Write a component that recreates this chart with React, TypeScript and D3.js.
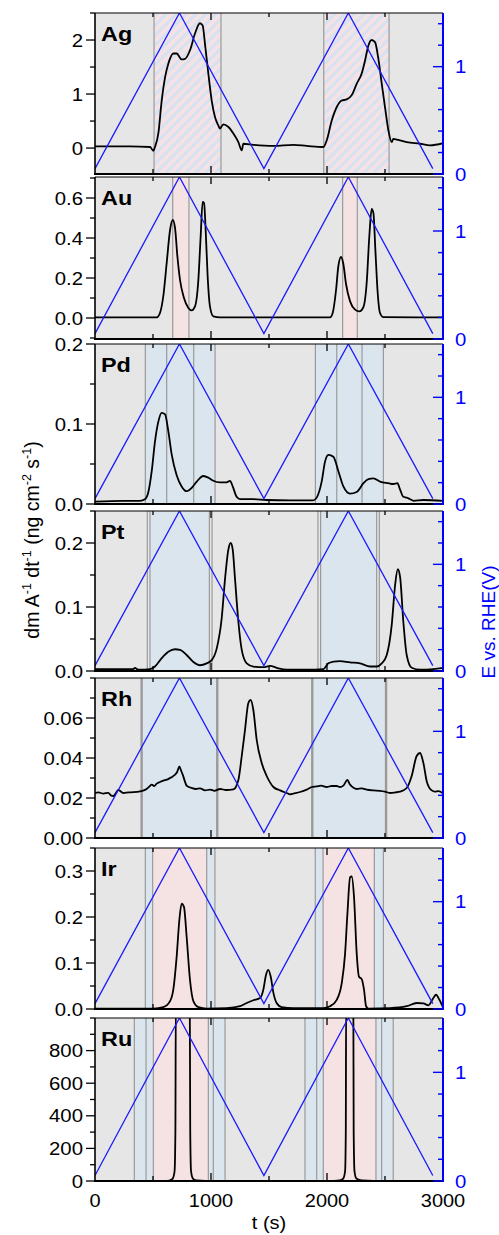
import * as d3 from 'd3';

// time axis (s) and applied potential (V vs RHE), triangle sweep
const potT = [0, 728, 1456, 2184, 2912];
const potE = [0.05, 1.5, 0.05, 1.5, 0.05];

// Ag
const agT = [0, 150, 300, 474, 503, 517, 546, 575, 604, 632, 675, 704, 747, 776, 819, 862, 905, 928, 948, 977, 1006, 1035, 1063, 1078, 1106, 1150, 1193, 1236, 1265, 1279, 1365, 1538, 1710, 1825, 1969, 1997, 2041, 2084, 2127, 2170, 2213, 2256, 2299, 2328, 2357, 2385, 2414, 2443, 2472, 2500, 2529, 2558, 2572, 2615, 2687, 2802, 2888, 3003];
const agV = [0.03, 0.03, 0.03, 0.02, -0.05, 0.02, 0.27, 0.88, 1.31, 1.56, 1.75, 1.75, 1.64, 1.65, 1.81, 2.12, 2.31, 2.27, 1.93, 1.38, 0.88, 0.57, 0.42, 0.36, 0.44, 0.39, 0.27, 0.11, -0.04, 0.08, 0.06, 0.04, 0.06, 0.04, 0.02, 0.14, 0.51, 0.76, 0.88, 0.9, 0.98, 1.19, 1.38, 1.62, 1.9, 2.0, 1.96, 1.65, 1.19, 0.76, 0.33, 0.11, 0.17, 0.15, 0.11, 0.08, 0.05, 0.09];

// Au
const auT = [0, 300, 532, 560, 589, 618, 647, 670, 690, 710, 733, 767, 805, 833, 862, 891, 911, 928, 940, 954, 971, 991, 1020, 1078, 1500, 2026, 2049, 2078, 2098, 2121, 2141, 2164, 2199, 2242, 2279, 2314, 2342, 2365, 2385, 2400, 2417, 2437, 2457, 2486, 3003];
const auV = [0.003, 0.003, 0.003, 0.025, 0.11, 0.275, 0.44, 0.49, 0.45, 0.31, 0.19, 0.1, 0.05, 0.038, 0.058, 0.19, 0.41, 0.58, 0.575, 0.44, 0.21, 0.058, 0.008, 0.003, 0.003, 0.003, 0.025, 0.14, 0.26, 0.305, 0.27, 0.17, 0.083, 0.042, 0.033, 0.055, 0.175, 0.41, 0.545, 0.525, 0.34, 0.125, 0.025, 0.004, 0.003];

// Pd
const pdT = [0, 244, 388, 431, 460, 489, 517, 546, 575, 604, 632, 661, 704, 747, 790, 833, 877, 934, 977, 1020, 1078, 1135, 1164, 1187, 1221, 1250, 1365, 1480, 1681, 1882, 1911, 1954, 1983, 2012, 2055, 2098, 2141, 2199, 2256, 2314, 2357, 2400, 2457, 2529, 2572, 2607, 2630, 2658, 2687, 2716, 2745, 2831, 3003];
const pdV = [0.003, 0.004, 0.004, 0.006, 0.015, 0.041, 0.078, 0.103, 0.114, 0.112, 0.091, 0.062, 0.036, 0.022, 0.016, 0.02, 0.028, 0.035, 0.033, 0.029, 0.027, 0.027, 0.029, 0.022, 0.009, 0.006, 0.006, 0.005, 0.0046, 0.0046, 0.008, 0.028, 0.053, 0.0615, 0.059, 0.041, 0.022, 0.013, 0.015, 0.026, 0.031, 0.032, 0.028, 0.026, 0.025, 0.026, 0.018, 0.009, 0.008, 0.006, 0.004, 0.005, 0.004];

// Pt
const ptT = [0, 200, 331, 345, 360, 388, 474, 517, 575, 632, 690, 733, 790, 848, 905, 963, 1006, 1049, 1092, 1121, 1150, 1170, 1187, 1207, 1236, 1265, 1308, 1365, 1451, 1509, 1566, 1653, 1825, 1969, 2012, 2055, 2112, 2199, 2285, 2371, 2429, 2472, 2515, 2558, 2587, 2610, 2630, 2658, 2687, 2730, 2802, 2917, 3003];
const ptV = [0.003, 0.003, 0.003, 0.005, 0.003, 0.002, 0.003, 0.007, 0.02, 0.03, 0.034, 0.033, 0.025, 0.014, 0.009, 0.012, 0.017, 0.035, 0.082, 0.144, 0.19, 0.2, 0.19, 0.144, 0.077, 0.033, 0.012, 0.007, 0.006, 0.008, 0.005, 0.002, 0.002, 0.003, 0.012, 0.0145, 0.0155, 0.0135, 0.012, 0.007, 0.007, 0.012, 0.025, 0.072, 0.134, 0.159, 0.147, 0.077, 0.025, 0.005, 0.002, 0.003, 0.005];

// Rh
const rhT = [0, 30, 72, 115, 140, 158, 180, 201, 244, 290, 331, 388, 420, 445, 470, 489, 510, 532, 560, 589, 620, 647, 670, 690, 708, 727, 740, 756, 790, 810, 833, 870, 905, 950, 992, 1030, 1078, 1130, 1193, 1236, 1265, 1293, 1322, 1342, 1365, 1394, 1437, 1480, 1538, 1595, 1620, 1653, 1680, 1710, 1768, 1825, 1870, 1911, 1950, 1997, 2040, 2084, 2110, 2141, 2176, 2195, 2213, 2256, 2300, 2342, 2400, 2457, 2500, 2543, 2590, 2630, 2687, 2730, 2773, 2802, 2831, 2860, 2903, 2930, 2960, 3003];
const rhV = [0.0225, 0.0228, 0.0222, 0.0226, 0.0212, 0.021, 0.0225, 0.024, 0.0225, 0.0228, 0.0229, 0.0233, 0.0238, 0.0245, 0.0258, 0.0267, 0.026, 0.0272, 0.028, 0.0287, 0.0292, 0.03, 0.0308, 0.0317, 0.033, 0.0358, 0.034, 0.0317, 0.0262, 0.0255, 0.025, 0.0245, 0.0248, 0.0238, 0.0242, 0.0236, 0.0245, 0.024, 0.0243, 0.029, 0.041, 0.054, 0.0675, 0.069, 0.064, 0.049, 0.0375, 0.031, 0.0255, 0.0238, 0.0232, 0.0225, 0.0218, 0.0222, 0.023, 0.0242, 0.0255, 0.0258, 0.0262, 0.0255, 0.026, 0.026, 0.0255, 0.0262, 0.029, 0.027, 0.0258, 0.0245, 0.0248, 0.0242, 0.0238, 0.0236, 0.0232, 0.0225, 0.0228, 0.0232, 0.025, 0.031, 0.041, 0.0425, 0.0375, 0.0283, 0.0238, 0.0232, 0.0234, 0.0222];

// Ir
const irT = [0, 300, 503, 589, 647, 675, 704, 727, 747, 767, 790, 819, 848, 891, 963, 1135, 1250, 1308, 1365, 1423, 1451, 1474, 1494, 1515, 1538, 1566, 1609, 1710, 1969, 2026, 2084, 2127, 2156, 2176, 2199, 2213, 2233, 2256, 2276, 2299, 2319, 2337, 2357, 2543, 2687, 2773, 2831, 2874, 2917, 2940, 2969, 3003];
const irV = [0.001, 0.001, 0.001, 0.004, 0.017, 0.042, 0.114, 0.193, 0.229, 0.222, 0.157, 0.063, 0.017, 0.004, 0.001, 0.002, 0.006, 0.013, 0.019, 0.024, 0.042, 0.074, 0.085, 0.07, 0.035, 0.013, 0.004, 0.002, 0.002, 0.006, 0.02, 0.056, 0.121, 0.207, 0.286, 0.288, 0.243, 0.121, 0.07, 0.065, 0.042, 0.006, 0.001, 0.002, 0.006, 0.013, 0.012, 0.008, 0.024, 0.031, 0.02, 0.002];

// Ru
const ruT = [0, 400, 600, 640, 670, 686, 693, 697, 817, 821, 828, 844, 877, 950, 1500, 2060, 2110, 2140, 2156, 2162, 2165, 2227, 2230, 2237, 2253, 2300, 2400, 3003];
const ruV = [0, 0, 0, 3, 15, 60, 300, 1100, 1100, 300, 60, 15, 3, 0, 0, 0, 3, 15, 60, 300, 1100, 1100, 300, 60, 15, 3, 0, 0];

// shaded potential windows (s)
const agHatch = [[509, 1086], [1972, 2535]];
const agLines = [509, 1086, 1972, 2535];
const auPink = [[670, 810], [2135, 2261]];
const auLines = [670, 810, 2135, 2261];
const pdBlue = [[434, 1035], [1900, 2486]];
const pdLines = [434, 618, 851, 1035, 1900, 2084, 2302, 2486];
const ptBlue = [[474, 986], [1945, 2428]];
const ptLines = [451, 474, 986, 1009, 1922, 1945, 2428, 2451];
const rhBlue = [[402, 1054], [1873, 2509]];
const rhLines = [402, 1054, 1873, 2509];
const irBlue = [[434, 497], [963, 1034], [1899, 1966], [2408, 2486]];
const irPink = [[497, 963], [1966, 2408]];
const irLines = [434, 497, 963, 1034, 1899, 1966, 2408, 2486];
const ruBlue = [[339, 503], [977, 1121], [1810, 1968], [2422, 2571]];
const ruPink = [[503, 977], [1968, 2422]];
const ruLines = [339, 440, 503, 977, 1020, 1121, 1810, 1911, 1968, 2422, 2471, 2571];

// y ticks
const agTicks = [0, 1, 2];
const auTicks = [0, 0.2, 0.4, 0.6];
const pdTicks = [0, 0.1, 0.2];
const ptTicks = [0, 0.1, 0.2];
const rhTicks = [0, 0.02, 0.04, 0.06];
const irTicks = [0, 0.1, 0.2, 0.3];
const ruTicks = [0, 200, 400, 600, 800];
const xTicks = [0, 1000, 2000, 3000];
const eTicks = [0, 1];

const FONT = '"Liberation Sans", Arial, sans-serif';
const GRAY = '#e6e6e6';
const PINK = '#f5e3e3';
const BLUE = '#dbe5ee';
const LINE = '#9a9a9a';

const panels = [
  { name: 'Ag', top: 13, bottom: 174, domain: [-0.48, 2.5], ticks: agTicks, minorStep: 0.5, fmt: d3.format('d'), t: agT, v: agV, hatch: agHatch, pink: [], blue: [], lines: agLines, lw: 1.2 },
  { name: 'Au', top: 177, bottom: 339, domain: [-0.105, 0.705], ticks: auTicks, minorStep: 0.1, fmt: d3.format('.1f'), t: auT, v: auV, hatch: [], pink: auPink, blue: [], lines: auLines, lw: 1.2 },
  { name: 'Pd', top: 344, bottom: 504, domain: [0, 0.2], ticks: pdTicks, minorStep: 0.05, fmt: d3.format('.1f'), t: pdT, v: pdV, hatch: [], pink: [], blue: pdBlue, lines: pdLines, lw: 1.2 },
  { name: 'Pt', top: 511, bottom: 671, domain: [0, 0.25], ticks: ptTicks, minorStep: 0.05, fmt: d3.format('.1f'), t: ptT, v: ptV, hatch: [], pink: [], blue: ptBlue, lines: ptLines, lw: 1.2 },
  { name: 'Rh', top: 678, bottom: 838, domain: [0, 0.08], ticks: rhTicks, minorStep: 0.01, fmt: d3.format('.2f'), t: rhT, v: rhV, hatch: [], pink: [], blue: rhBlue, lines: rhLines, lw: 2.4 },
  { name: 'Ir', top: 848, bottom: 1009, domain: [0, 0.35], ticks: irTicks, minorStep: 0.05, fmt: d3.format('.1f'), t: irT, v: irV, hatch: [], pink: irPink, blue: irBlue, lines: irLines, lw: 1.2 },
  { name: 'Ru', top: 1018, bottom: 1181, domain: [0, 1000], ticks: ruTicks, minorStep: 100, fmt: d3.format('d'), t: ruT, v: ruV, hatch: [], pink: ruPink, blue: ruBlue, lines: ruLines, lw: 1.2 },
];

const x = d3.scaleLinear().domain([0, 3000]).range([95, 443]);
const xAll = d3.range(0, 3001, 500);

function Panel({ p, idx, last }: any) {
  const y = d3.scaleLinear().domain(p.domain).range([p.bottom, p.top]);
  const yE = d3.scaleLinear().domain([0, 1.5]).range([p.bottom, p.top]);
  const sig = d3.line<number>().x((d, i) => x(p.t[i])).y((d) => y(d)).curve(d3.curveMonotoneX);
  const pot = d3.line<number>().x((d, i) => x(potT[i])).y((d) => yE(d));
  const minors = d3.range(Math.ceil(p.domain[0] / p.minorStep) * p.minorStep, p.domain[1] + 1e-9, p.minorStep)
    .filter((v: number) => !p.ticks.some((t: number) => Math.abs(t - v) < 1e-9));
  const eMinor = [0.2, 0.4, 0.6, 0.8, 1.2, 1.4];
  const clip = `clip-${idx}`;
  const h = p.bottom - p.top;
  return (
    <g>
      <defs>
        <clipPath id={clip}>
          <rect x={95} y={p.top} width={348} height={h} />
        </clipPath>
      </defs>
      <rect x={95} y={p.top} width={348} height={h} fill={GRAY} />
      {p.hatch.map((r: number[], i: number) => (
        <rect key={'h' + i} x={x(r[0])} y={p.top} width={x(r[1]) - x(r[0])} height={h} fill="url(#hatch)" />
      ))}
      {p.pink.map((r: number[], i: number) => (
        <rect key={'p' + i} x={x(r[0])} y={p.top} width={x(r[1]) - x(r[0])} height={h} fill={PINK} />
      ))}
      {p.blue.map((r: number[], i: number) => (
        <rect key={'b' + i} x={x(r[0])} y={p.top} width={x(r[1]) - x(r[0])} height={h} fill={BLUE} />
      ))}
      {p.lines.map((t: number, i: number) => (
        <line key={'l' + i} x1={x(t)} x2={x(t)} y1={p.top} y2={p.bottom} stroke={LINE} strokeWidth={p.lw} />
      ))}
      <g clipPath={`url(#${clip})`}>
        <path d={sig(p.v) || ''} fill="none" stroke="#000" strokeWidth={1.8} strokeLinejoin="round" />
        <path d={pot(potE) || ''} fill="none" stroke="#1a1aff" strokeWidth={1.3} />
      </g>
      {/* spines */}
      <line x1={95} x2={443} y1={p.top} y2={p.top} stroke="#000" strokeWidth={1.2} />
      <line x1={94} x2={443} y1={p.bottom} y2={p.bottom} stroke="#000" strokeWidth={2.2} />
      <line x1={95} x2={95} y1={p.top} y2={p.bottom} stroke="#000" strokeWidth={1.6} />
      <line x1={443} x2={443} y1={p.top} y2={p.bottom + 1} stroke="#0000ff" strokeWidth={2} />
      {/* x ticks, inward top and bottom */}
      {xAll.filter((t) => t > 0 && t < 3000).map((t) => {
        const len = t % 1000 === 0 ? 8 : 5;
        return (
          <g key={'x' + t}>
            <line x1={x(t)} x2={x(t)} y1={p.bottom} y2={p.bottom - len} stroke="#000" strokeWidth={1.3} />
            <line x1={x(t)} x2={x(t)} y1={p.top} y2={p.top + len - 1} stroke="#000" strokeWidth={1.3} />
          </g>
        );
      })}
      {/* left ticks */}
      {p.ticks.map((t: number) => (
        <g key={'y' + t}>
          <line x1={86} x2={95} y1={y(t)} y2={y(t)} stroke="#000" strokeWidth={1.3} />
          <text transform={`translate(83,${y(t)}) scale(1.1,1)`} dy="0.36em" textAnchor="end" fontSize={18.5} fontFamily={FONT}>
            {p.fmt(t)}
          </text>
        </g>
      ))}
      {minors.map((t: number) => (
        <line key={'m' + t} x1={90} x2={95} y1={y(t)} y2={y(t)} stroke="#000" strokeWidth={1.3} />
      ))}
      {/* right potential axis, inward ticks */}
      {eTicks.map((e) => (
        <g key={'e' + e}>
          <line x1={433} x2={443} y1={yE(e)} y2={yE(e)} stroke="#0000ff" strokeWidth={1.4} />
          <text transform={`translate(455,${yE(e)}) scale(1.1,1)`} dy="0.36em" fontSize={18.5} fontFamily={FONT} fill="#0000ff">
            {e}
          </text>
        </g>
      ))}
      {eMinor.map((e) => (
        <line key={'em' + e} x1={438} x2={443} y1={yE(e)} y2={yE(e)} stroke="#0000ff" strokeWidth={1.4} />
      ))}
      <text transform={`translate(101,${p.top + 28}) scale(1.2,1)`} fontSize={19.5} fontWeight="bold" fontFamily={FONT}>
        {p.name}
      </text>
      {last &&
        xTicks.map((t) => (
          <text key={'xl' + t} transform={`translate(${x(t)},${p.bottom + 26}) scale(1.08,1)`} textAnchor="middle" fontSize={18.5} fontFamily={FONT}>
            {t}
          </text>
        ))}
    </g>
  );
}

export default function App() {
  return (
    <svg width={499} height={1235} style={{ position: 'absolute', left: 0, top: 0, background: '#fff' }}>
      <defs>
        <pattern id="hatch" width={7} height={7} patternUnits="userSpaceOnUse" patternTransform="rotate(45)">
          <rect width={7} height={7} fill="#f4e2e4" />
          <rect width={3} height={7} fill="#d6e2f1" />
        </pattern>
      </defs>
      {panels.map((p, i) => (
        <Panel key={p.name} p={p} idx={i} last={i === panels.length - 1} />
      ))}
      <text transform="translate(269,1229) scale(1.08,1)" textAnchor="middle" fontSize={18.5} fontFamily={FONT}>
        t (s)
      </text>
      <text transform="translate(39,540) rotate(-90)" textAnchor="middle" fontSize={19.5} fontFamily={FONT}>
        dm A<tspan dy={-8} fontSize={12.5}>-1</tspan>
        <tspan dy={8}> dt</tspan>
        <tspan dy={-8} fontSize={12.5}>-1</tspan>
        <tspan dy={8}> (ng cm</tspan>
        <tspan dy={-8} fontSize={12.5}>-2</tspan>
        <tspan dy={8}> s</tspan>
        <tspan dy={-8} fontSize={12.5}>-1</tspan>
        <tspan dy={8}>)</tspan>
      </text>
      <text transform="translate(495,622) rotate(-90)" textAnchor="middle" fontSize={19} fontFamily={FONT} fill="#0000ff">
        E vs. RHE(V)
      </text>
    </svg>
  );
}
